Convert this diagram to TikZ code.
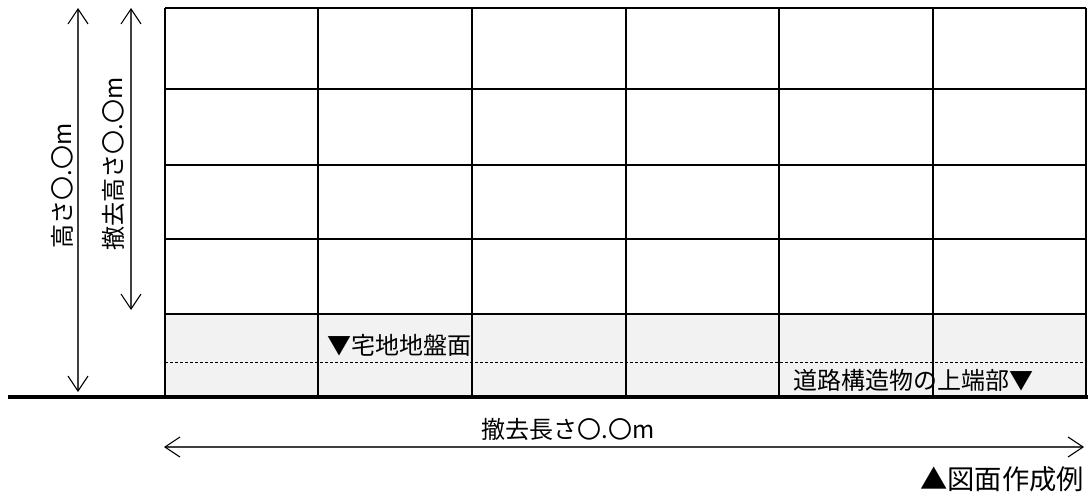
\documentclass[tikz,border=0pt]{standalone}
\usepackage{fontspec}
\setmainfont{Noto Sans CJK JP}
\usetikzlibrary{arrows.meta}
\definecolor{groundgray}{HTML}{F2F2F2}
\tikzset{
	dimline/.style={draw=black!75,line width=1.1pt,{Straight Barb[length=15pt,width=20pt,black]}-{Straight Barb[length=15pt,width=20pt,black]}},
	gridline/.style={line width=1.9pt},
	lbl/.style={inner sep=0pt,font=\fontsize{24pt}{26pt}\selectfont}
}
\begin{document}
\begin{tikzpicture}[x=1pt,y=-1pt]
	\useasboundingbox (0,0) rectangle (1088,495);
	\fill[groundgray] (165,314) rectangle (1086,397);
	\draw[densely dashed,line width=.9pt] (165,362)--(1086,362);
	\foreach \y in {8,89,165,239,314}{
		\draw[gridline] (165,\y)--(1086,\y);
	}
	\foreach \x in {165,318,472,626,779,933,1086}{
		\draw[gridline] (\x,8)--(\x,397);
	}
	\draw[line width=4pt] (8,397)--(1088,397);
	\path (78,8) coordinate (H_t)
		(78,392) coordinate (H_b)
		(131,8) coordinate (R_t)
		(131,310) coordinate (R_b)
		(164,447) coordinate (L_l)
		(1084,447) coordinate (L_r);
	\draw[dimline] (H_t)--(H_b);
	\draw[dimline] (R_t)--(R_b);
	\draw[dimline] (L_l)--(L_r);
	\node[lbl,rotate=90] (lblH) at (62,186) {高さ〇.〇m};
	\node[lbl,rotate=90] (lblR) at (113,164) {撤去高さ〇.〇m};
	\node[lbl] (lblL) at (568,429) {撤去長さ〇.〇m};
	\node[lbl] (lblG) at (399,345) {▼宅地地盤面};
	\node[lbl] (lblD) at (913,380) {道路構造物の上端部▼};
	\node[inner sep=0pt,font=\fontsize{27.3pt}{30pt}\selectfont] (lblS) at (1002,479) {▲図面作成例};
\end{tikzpicture}
\end{document}
